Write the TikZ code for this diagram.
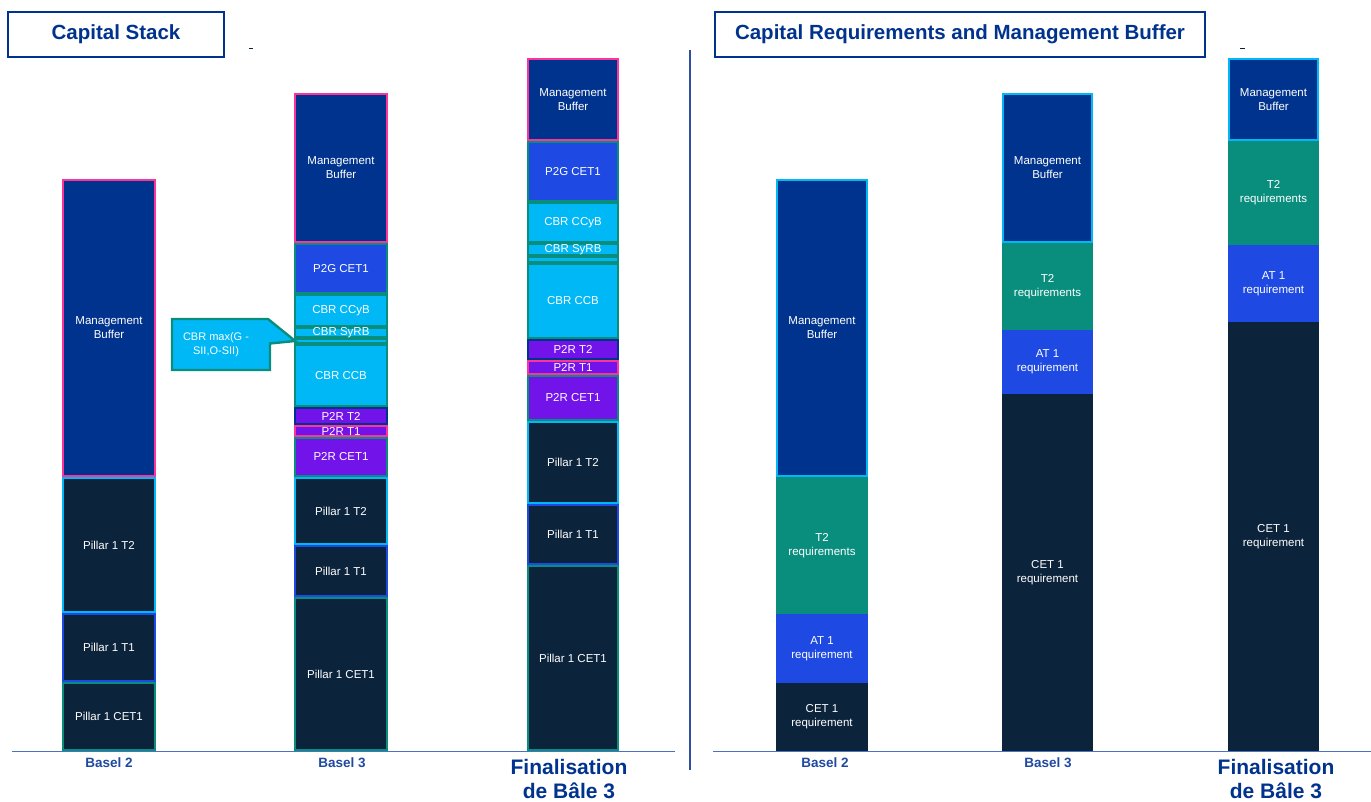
\documentclass[tikz,border=0pt]{standalone}
\usepackage{fontspec}
\setmainfont{Liberation Sans}
\definecolor{mbblue}{HTML}{00338D}
\definecolor{darkfill}{HTML}{0C233C}
\definecolor{cobalt}{HTML}{1E49E2}
\definecolor{cbrcyan}{HTML}{00B8F5}
\definecolor{purplefill}{HTML}{7213EA}
\definecolor{tealc}{HTML}{098E7E}
\definecolor{pinkc}{HTML}{FD349C}
\definecolor{axisblue}{HTML}{4A72C0}
\definecolor{divblue}{HTML}{2F4FA3}
\definecolor{catblue}{HTML}{1F48A0}

% bordered segment: name, x left, x right, y top, y bottom, fill, border
\newcommand\segbar[7]{%
  \pgfmathsetmacro\segcx{(#2+#3)/2}%
  \pgfmathsetmacro\segcy{(#4+#5)/2}%
  \pgfmathsetmacro\segw{#3-#2-2.4}%
  \pgfmathsetmacro\segh{#5-#4-2.4}%
  \node[segbox, fill=#6, draw=#7, minimum width=\segw pt, minimum height=\segh pt] (#1) at (\segcx,\segcy) {};%
}
% plain filled segment: name, x left, x right, y top, y bottom, fill
\newcommand\blkbar[6]{%
  \pgfmathsetmacro\segcx{(#2+#3)/2}%
  \pgfmathsetmacro\segcy{(#4+#5)/2}%
  \pgfmathsetmacro\segw{#3-#2}%
  \pgfmathsetmacro\segh{#5-#4}%
  \node[blkbox, fill=#6, minimum width=\segw pt, minimum height=\segh pt] (#1) at (\segcx,\segcy) {};%
}

\begin{document}
\begin{tikzpicture}[x=1pt,y=-1pt,
  segbox/.style={rectangle, inner sep=0pt, outer sep=0pt, line width=2.4pt},
  blkbox/.style={rectangle, inner sep=0pt, outer sep=0pt, draw=none},
  lbl/.style={text=white, font=\fontsize{11.5}{14}\selectfont, align=center, inner sep=0pt},
  header/.style={draw=mbblue, line width=1.8pt, fill=white, inner sep=0pt, text=mbblue,
    font=\fontsize{20.5}{24}\selectfont\bfseries},
  catlbl/.style={text=catblue, font=\fontsize{13.5}{16}\selectfont\bfseries, inner sep=0pt},
  finlbl/.style={text=mbblue, font=\fontsize{21}{24}\selectfont\bfseries, align=center, inner sep=0pt}]
\useasboundingbox (0,0) rectangle (1371,802);

% ---------- headers ----------
\node[header, minimum width=216pt, minimum height=45pt] (hleft) at (116,34.5) {Capital Stack};
\node[header, minimum width=490pt, minimum height=45pt] (hright) at (960,34.5) {Capital Requirements and Management Buffer};
\draw[darkfill, line width=1pt] (249,49) -- (253,49);
\draw[darkfill, line width=1pt] (1240,48.5) -- (1245,48.5);

% ---------- axes and divider ----------
\coordinate (axl1) at (12,751.5);
\coordinate (axl2) at (675,751.5);
\coordinate (axr1) at (713,751.5);
\coordinate (axr2) at (1371,751.5);
\coordinate (div1) at (690,50);
\coordinate (div2) at (690,770);
\draw[axisblue, line width=1.8pt] (axl1) -- (axl2);
\draw[axisblue, line width=1.8pt] (axr1) -- (axr2);
\draw[divblue, line width=1.5pt] (div1) -- (div2);

% ---------- capital stack: Basel 2 ----------
\segbar{aMB}{62}{156}{179}{477}{mbblue}{pinkc}
\segbar{aPT}{62}{156}{477}{613}{darkfill}{cbrcyan}
\segbar{aPO}{62}{156}{613}{682}{darkfill}{cobalt}
\segbar{aPC}{62}{156}{682}{751}{darkfill}{tealc}
\node[lbl] (aMBt) at (aMB) {Management\\Buffer};
\node[lbl] (aPTt) at (aPT) {Pillar 1 T2};
\node[lbl] (aPOt) at (aPO) {Pillar 1 T1};
\node[lbl] (aPCt) at (aPC) {Pillar 1 CET1};

% ---------- capital stack: Basel 3 ----------
\segbar{bMB}{294}{388}{93}{243}{mbblue}{pinkc}
\segbar{bPG}{294}{388}{243}{294}{cobalt}{tealc}
\segbar{bCCyB}{294}{388}{294}{327}{cbrcyan}{tealc}
\segbar{bSyRB}{294}{388}{327}{338}{cbrcyan}{tealc}
\segbar{bSII}{294}{388}{338}{344}{cbrcyan}{tealc}
\segbar{bCCB}{294}{388}{344}{407}{cbrcyan}{tealc}
\segbar{bRT}{294}{388}{407}{425}{purplefill}{mbblue}
\segbar{bRO}{294}{388}{425}{437}{purplefill}{pinkc}
\segbar{bRC}{294}{388}{437}{477}{purplefill}{tealc}
\segbar{bPT}{294}{388}{477}{545}{darkfill}{cbrcyan}
\segbar{bPO}{294}{388}{545}{597}{darkfill}{cobalt}
\segbar{bPC}{294}{388}{597}{751}{darkfill}{tealc}
\node[lbl] (bMBt) at (bMB) {Management\\Buffer};
\node[lbl] (bPGt) at (bPG) {P2G CET1};
\node[lbl] (bCCyBt) at (bCCyB) {CBR CCyB};
\node[lbl] (bSyRBt) at (bSyRB) {CBR SyRB};
\node[lbl] (bCCBt) at (bCCB) {CBR CCB};
\node[lbl] (bRTt) at (bRT) {P2R T2};
\node[lbl] (bROt) at (bRO) {P2R T1};
\node[lbl] (bRCt) at (bRC) {P2R CET1};
\node[lbl] (bPTt) at (bPT) {Pillar 1 T2};
\node[lbl] (bPOt) at (bPO) {Pillar 1 T1};
\node[lbl] (bPCt) at (bPC) {Pillar 1 CET1};

% callout pointing at the systemic buffer slice
\filldraw[fill=cbrcyan, draw=tealc, line width=2.4pt, line join=miter]
  (172,319) -- (268,319) -- (bSII.west) -- (270,343.5) -- (270,370) -- (172,370) -- cycle;
\node[lbl, font=\fontsize{11}{14}\selectfont] (callt) at (216,345) {CBR max(G -\\SII,O-SII)};

% ---------- capital stack: final Basel 3 ----------
\segbar{cMB}{527}{619}{58}{141}{mbblue}{pinkc}
\segbar{cPG}{527}{619}{141}{202}{cobalt}{tealc}
\segbar{cCCyB}{527}{619}{202}{243}{cbrcyan}{tealc}
\segbar{cSyRB}{527}{619}{243}{256}{cbrcyan}{tealc}
\segbar{cSII}{527}{619}{256}{263}{cbrcyan}{tealc}
\segbar{cCCB}{527}{619}{263}{339}{cbrcyan}{tealc}
\segbar{cRT}{527}{619}{339}{360}{purplefill}{mbblue}
\segbar{cRO}{527}{619}{360}{375}{purplefill}{pinkc}
\segbar{cRC}{527}{619}{375}{421}{purplefill}{tealc}
\segbar{cPT}{527}{619}{421}{504}{darkfill}{cbrcyan}
\segbar{cPO}{527}{619}{504}{565}{darkfill}{cobalt}
\segbar{cPC}{527}{619}{565}{751}{darkfill}{tealc}
\node[lbl] (cMBt) at (cMB) {Management\\Buffer};
\node[lbl] (cPGt) at (cPG) {P2G CET1};
\node[lbl] (cCCyBt) at (cCCyB) {CBR CCyB};
\node[lbl] (cSyRBt) at (cSyRB) {CBR SyRB};
\node[lbl] (cCCBt) at (cCCB) {CBR CCB};
\node[lbl] (cRTt) at (cRT) {P2R T2};
\node[lbl] (cROt) at (cRO) {P2R T1};
\node[lbl] (cRCt) at (cRC) {P2R CET1};
\node[lbl] (cPTt) at (cPT) {Pillar 1 T2};
\node[lbl] (cPOt) at (cPO) {Pillar 1 T1};
\node[lbl] (cPCt) at (cPC) {Pillar 1 CET1};

% ---------- requirements: Basel 2 ----------
\segbar{dMB}{776}{868}{179}{477}{mbblue}{cbrcyan}
\blkbar{dT2}{776}{868}{477}{614}{tealc}
\blkbar{dAT}{776}{868}{614}{683}{cobalt}
\blkbar{dCE}{776}{868}{683}{751}{darkfill}
\node[lbl] (dMBt) at (dMB) {Management\\Buffer};
\node[lbl] (dT2t) at (dT2) {T2\\requirements};
\node[lbl] (dATt) at (dAT) {AT 1\\requirement};
\node[lbl] (dCEt) at (dCE) {CET 1\\requirement};

% ---------- requirements: Basel 3 ----------
\segbar{eMB}{1002}{1093}{93}{243}{mbblue}{cbrcyan}
\blkbar{eT2}{1002}{1093}{243}{330}{tealc}
\blkbar{eAT}{1002}{1093}{330}{394}{cobalt}
\blkbar{eCE}{1002}{1093}{394}{751}{darkfill}
\node[lbl] (eMBt) at (eMB) {Management\\Buffer};
\node[lbl] (eT2t) at (eT2) {T2\\requirements};
\node[lbl] (eATt) at (eAT) {AT 1\\requirement};
\node[lbl] (eCEt) at (eCE) {CET 1\\requirement};

% ---------- requirements: final Basel 3 ----------
\segbar{fMB}{1228}{1319}{58}{141}{mbblue}{cbrcyan}
\blkbar{fT2}{1228}{1319}{141}{245}{tealc}
\blkbar{fAT}{1228}{1319}{245}{322}{cobalt}
\blkbar{fCE}{1228}{1319}{322}{751}{darkfill}
\node[lbl] (fMBt) at (fMB) {Management\\Buffer};
\node[lbl] (fT2t) at (fT2) {T2\\requirements};
\node[lbl] (fATt) at (fAT) {AT 1\\requirement};
\node[lbl] (fCEt) at (fCE) {CET 1\\requirement};

% ---------- category labels ----------
\node[catlbl] (la) at (109,763) {Basel 2};
\node[catlbl] (lb) at (342,763) {Basel 3};
\node[finlbl] (lc) at (569,779.5) {Finalisation\\de Bâle 3};
\node[catlbl] (ld) at (825,763) {Basel 2};
\node[catlbl] (le) at (1048,763) {Basel 3};
\node[finlbl] (lf) at (1276,779.5) {Finalisation\\de Bâle 3};
\end{tikzpicture}
\end{document}
